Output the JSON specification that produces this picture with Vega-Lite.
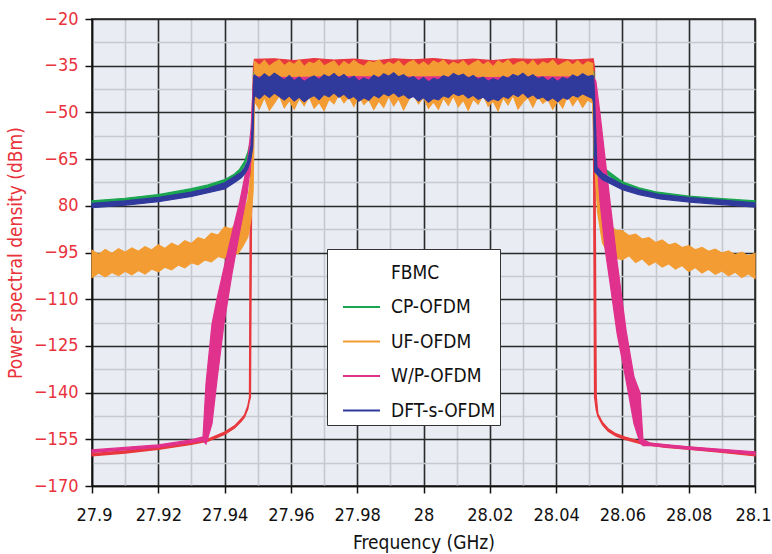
{
  "$schema": "https://vega.github.io/schema/vega-lite/v6.json",
  "width": 663,
  "height": 467,
  "autosize": {"type": "none"},
  "padding": {"left": 92, "top": 19, "right": 17, "bottom": 68},
  "background": "white",
  "config": {
    "view": {"fill": "#e9ecf2", "stroke": "#555555", "strokeWidth": 2},
    "font": "DejaVu Sans Condensed, Liberation Sans Narrow, Roboto, sans-serif"
  },
  "datasets": {
    "fbmc": [
      {"f":27.900,"lo":-160.3,"hi":-159.6},{"f":27.910,"lo":-159.4,"hi":-158.7},{"f":27.920,"lo":-158.2,"hi":-157.5},
      {"f":27.930,"lo":-156.6,"hi":-155.9},{"f":27.935,"lo":-155.6,"hi":-154.9},{"f":27.940,"lo":-153.4,"hi":-152.7},
      {"f":27.943,"lo":-151.4,"hi":-150.7},{"f":27.945,"lo":-149.2,"hi":-148.5},{"f":27.946,"lo":-147.9,"hi":-147.2},
      {"f":27.947,"lo":-145.2,"hi":-144.3},{"f":27.9475,"lo":-142.6,"hi":-141.6},{"f":27.9478,"lo":-141.5,"hi":-64.0},
      {"f":27.9482,"lo":-66.0,"hi":-55.0},{"f":27.9487,"lo":-50.0,"hi":-36.0},
      {"f":27.949,"lo":-37.0,"hi":-33.0},{"f":27.955,"lo":-37.5,"hi":-32.8},{"f":27.961,"lo":-37.2,"hi":-33.4},
      {"f":27.967,"lo":-37.8,"hi":-32.7},{"f":27.973,"lo":-37.0,"hi":-33.2},{"f":27.979,"lo":-37.4,"hi":-32.9},
      {"f":27.985,"lo":-37.6,"hi":-33.5},{"f":27.991,"lo":-37.1,"hi":-32.8},{"f":27.997,"lo":-37.5,"hi":-33.1},
      {"f":28.003,"lo":-37.3,"hi":-32.7},{"f":28.009,"lo":-37.8,"hi":-33.3},{"f":28.015,"lo":-37.0,"hi":-32.9},
      {"f":28.021,"lo":-37.4,"hi":-33.4},{"f":28.027,"lo":-37.6,"hi":-32.8},{"f":28.033,"lo":-37.2,"hi":-33.0},
      {"f":28.039,"lo":-37.7,"hi":-32.7},{"f":28.045,"lo":-37.3,"hi":-33.2},{"f":28.0512,"lo":-37.5,"hi":-32.8},
      {"f":28.0516,"lo":-141.4,"hi":-36.0},{"f":28.0521,"lo":-145.5,"hi":-141.0},{"f":28.0526,"lo":-147.6,"hi":-146.8},
      {"f":28.054,"lo":-150.4,"hi":-149.6},{"f":28.0557,"lo":-152.4,"hi":-151.6},{"f":28.058,"lo":-153.9,"hi":-153.2},
      {"f":28.0608,"lo":-155.0,"hi":-154.3},{"f":28.0662,"lo":-156.6,"hi":-155.9},{"f":28.073,"lo":-157.6,"hi":-156.9},
      {"f":28.0804,"lo":-158.2,"hi":-157.5},{"f":28.09,"lo":-159.2,"hi":-158.5},{"f":28.1,"lo":-160.3,"hi":-159.6}
    ],
    "cp": [
      {"f":27.900,"lo":-79.4,"hi":-78.4},{"f":27.910,"lo":-78.6,"hi":-77.6},{"f":27.920,"lo":-77.5,"hi":-76.4},
      {"f":27.930,"lo":-75.6,"hi":-74.5},{"f":27.935,"lo":-74.4,"hi":-73.3},{"f":27.940,"lo":-72.8,"hi":-71.6},
      {"f":27.943,"lo":-71.0,"hi":-69.8},{"f":27.9445,"lo":-69.5,"hi":-68.3},{"f":27.946,"lo":-67.0,"hi":-65.8},
      {"f":27.947,"lo":-64.3,"hi":-62.8},{"f":27.948,"lo":-60.5,"hi":-58.6},{"f":27.9485,"lo":-58.0,"hi":-50.0},
      {"f":27.9488,"lo":-50.0,"hi":-37.0},{"f":27.949,"lo":-41.0,"hi":-36.8},{"f":27.960,"lo":-41.0,"hi":-37.0},
      {"f":27.975,"lo":-40.8,"hi":-37.2},{"f":27.990,"lo":-41.2,"hi":-36.9},{"f":28.005,"lo":-40.9,"hi":-37.1},
      {"f":28.020,"lo":-41.1,"hi":-37.0},{"f":28.035,"lo":-40.8,"hi":-36.8},{"f":28.0512,"lo":-41.0,"hi":-37.0},
      {"f":28.0514,"lo":-64.0,"hi":-37.0},{"f":28.052,"lo":-65.5,"hi":-64.0},{"f":28.053,"lo":-67.3,"hi":-66.1},
      {"f":28.0545,"lo":-69.1,"hi":-67.9},{"f":28.0565,"lo":-70.7,"hi":-69.5},{"f":28.06,"lo":-73.5,"hi":-72.3},
      {"f":28.065,"lo":-75.3,"hi":-74.2},{"f":28.07,"lo":-76.6,"hi":-75.5},{"f":28.08,"lo":-77.9,"hi":-76.9},
      {"f":28.09,"lo":-78.7,"hi":-77.7},{"f":28.1,"lo":-79.4,"hi":-78.4}
    ],
    "uf": [
      {"f":27.900,"lo":-103.0,"hi":-94.3},{"f":27.902,"lo":-101.6,"hi":-95.6},{"f":27.904,"lo":-102.8,"hi":-94.0},
      {"f":27.906,"lo":-101.4,"hi":-95.3},{"f":27.908,"lo":-102.4,"hi":-93.8},{"f":27.910,"lo":-101.0,"hi":-94.9},
      {"f":27.912,"lo":-102.2,"hi":-93.5},{"f":27.914,"lo":-100.8,"hi":-94.6},{"f":27.916,"lo":-101.9,"hi":-93.1},
      {"f":27.918,"lo":-100.3,"hi":-94.2},{"f":27.920,"lo":-101.2,"hi":-92.5},{"f":27.922,"lo":-99.7,"hi":-93.7},
      {"f":27.924,"lo":-100.6,"hi":-92.0},{"f":27.926,"lo":-99.0,"hi":-93.0},{"f":27.928,"lo":-99.9,"hi":-91.2},
      {"f":27.930,"lo":-98.3,"hi":-92.1},{"f":27.932,"lo":-99.0,"hi":-90.2},{"f":27.934,"lo":-97.4,"hi":-90.9},
      {"f":27.936,"lo":-98.0,"hi":-88.8},{"f":27.938,"lo":-96.3,"hi":-89.4},{"f":27.940,"lo":-96.9,"hi":-86.8},
      {"f":27.942,"lo":-95.0,"hi":-87.5},{"f":27.944,"lo":-95.4,"hi":-85.0},{"f":27.9455,"lo":-93.0,"hi":-83.0},
      {"f":27.947,"lo":-90.0,"hi":-78.0},{"f":27.948,"lo":-84.0,"hi":-70.0},{"f":27.9486,"lo":-75.0,"hi":-55.0},
      {"f":27.9490,"lo":-46.5,"hi":-33.6},{"f":27.9505,"lo":-48.8,"hi":-34.9},{"f":27.9520,"lo":-45.2,"hi":-33.3},
      {"f":27.9535,"lo":-49.3,"hi":-35.2},{"f":27.9550,"lo":-47.0,"hi":-34.0},{"f":27.9565,"lo":-44.6,"hi":-33.2},
      {"f":27.9580,"lo":-48.5,"hi":-35.0},{"f":27.9595,"lo":-46.2,"hi":-33.8},{"f":27.9610,"lo":-49.0,"hi":-34.6},
      {"f":27.9625,"lo":-45.5,"hi":-33.1},{"f":27.9640,"lo":-47.8,"hi":-35.3},{"f":27.9655,"lo":-44.9,"hi":-33.9},
      {"f":27.9670,"lo":-48.6,"hi":-34.4},{"f":27.9685,"lo":-46.8,"hi":-33.2},{"f":27.9700,"lo":-49.4,"hi":-35.1},
      {"f":27.9715,"lo":-45.8,"hi":-34.2},{"f":27.9730,"lo":-47.2,"hi":-33.5},{"f":27.9745,"lo":-44.2,"hi":-35.4},
      {"f":27.9760,"lo":-46.9,"hi":-33.7},{"f":27.9775,"lo":-45.0,"hi":-34.8},{"f":27.9790,"lo":-48.1,"hi":-33.3},
      {"f":27.9805,"lo":-44.5,"hi":-34.5},{"f":27.9820,"lo":-47.5,"hi":-35.2},{"f":27.9835,"lo":-45.9,"hi":-33.6},
      {"f":27.9850,"lo":-49.1,"hi":-34.1},{"f":27.9865,"lo":-46.3,"hi":-33.2},{"f":27.9880,"lo":-48.4,"hi":-35.0},
      {"f":27.9895,"lo":-44.8,"hi":-33.9},{"f":27.9910,"lo":-47.9,"hi":-34.7},{"f":27.9925,"lo":-45.6,"hi":-33.4},
      {"f":27.9940,"lo":-49.2,"hi":-35.3},{"f":27.9955,"lo":-46.0,"hi":-34.0},{"f":27.9970,"lo":-44.3,"hi":-33.3},
      {"f":27.9985,"lo":-47.3,"hi":-34.9},{"f":28.0000,"lo":-45.1,"hi":-33.8},{"f":28.0015,"lo":-48.7,"hi":-35.1},
      {"f":28.0030,"lo":-46.6,"hi":-33.5},{"f":28.0045,"lo":-49.0,"hi":-34.3},{"f":28.0060,"lo":-45.4,"hi":-33.2},
      {"f":28.0075,"lo":-47.7,"hi":-35.0},{"f":28.0090,"lo":-44.7,"hi":-33.9},{"f":28.0105,"lo":-48.2,"hi":-34.6},
      {"f":28.0120,"lo":-46.1,"hi":-33.4},{"f":28.0135,"lo":-49.3,"hi":-35.2},{"f":28.0150,"lo":-45.7,"hi":-34.1},
      {"f":28.0165,"lo":-47.4,"hi":-33.3},{"f":28.0180,"lo":-44.4,"hi":-34.8},{"f":28.0195,"lo":-48.0,"hi":-33.7},
      {"f":28.0210,"lo":-46.4,"hi":-35.3},{"f":28.0225,"lo":-49.5,"hi":-33.5},{"f":28.0240,"lo":-45.3,"hi":-34.4},
      {"f":28.0255,"lo":-47.6,"hi":-33.2},{"f":28.0270,"lo":-44.6,"hi":-35.0},{"f":28.0285,"lo":-48.9,"hi":-34.0},
      {"f":28.0300,"lo":-46.7,"hi":-33.6},{"f":28.0315,"lo":-45.2,"hi":-34.9},{"f":28.0330,"lo":-48.3,"hi":-33.3},
      {"f":28.0345,"lo":-44.9,"hi":-35.2},{"f":28.0360,"lo":-47.1,"hi":-33.8},{"f":28.0375,"lo":-45.8,"hi":-34.5},
      {"f":28.0390,"lo":-49.0,"hi":-33.2},{"f":28.0405,"lo":-46.2,"hi":-35.1},{"f":28.0420,"lo":-48.6,"hi":-34.2},
      {"f":28.0435,"lo":-44.5,"hi":-33.5},{"f":28.0450,"lo":-47.8,"hi":-34.8},{"f":28.0465,"lo":-45.5,"hi":-33.4},
      {"f":28.0480,"lo":-48.4,"hi":-35.0},{"f":28.0495,"lo":-46.0,"hi":-33.7},{"f":28.0510,"lo":-47.0,"hi":-34.3},
      {"f":28.0515,"lo":-62.0,"hi":-45.0},{"f":28.0525,"lo":-82.0,"hi":-70.0},{"f":28.054,"lo":-92.0,"hi":-82.0},
      {"f":28.056,"lo":-95.5,"hi":-86.5},{"f":28.058,"lo":-96.8,"hi":-87.8},
      {"f":28.060,"lo":-97.3,"hi":-88.0},{"f":28.062,"lo":-96.0,"hi":-89.6},{"f":28.064,"lo":-98.2,"hi":-89.1},
      {"f":28.066,"lo":-97.0,"hi":-90.7},{"f":28.068,"lo":-99.1,"hi":-90.2},{"f":28.070,"lo":-98.0,"hi":-91.8},
      {"f":28.072,"lo":-99.7,"hi":-91.0},{"f":28.074,"lo":-98.6,"hi":-92.6},{"f":28.076,"lo":-100.3,"hi":-92.0},
      {"f":28.078,"lo":-99.2,"hi":-93.4},{"f":28.080,"lo":-101.1,"hi":-92.8},{"f":28.082,"lo":-99.8,"hi":-94.1},
      {"f":28.084,"lo":-101.6,"hi":-93.4},{"f":28.086,"lo":-100.4,"hi":-94.6},{"f":28.088,"lo":-102.0,"hi":-93.9},
      {"f":28.090,"lo":-100.9,"hi":-95.2},{"f":28.092,"lo":-102.5,"hi":-94.5},{"f":28.094,"lo":-101.3,"hi":-95.7},
      {"f":28.096,"lo":-103.0,"hi":-94.9},{"f":28.098,"lo":-101.8,"hi":-96.1},{"f":28.100,"lo":-103.3,"hi":-95.3}
    ],
    "wp": [
      {"f":27.900,"lo":-159.2,"hi":-158.4},{"f":27.910,"lo":-158.4,"hi":-157.6},{"f":27.920,"lo":-157.6,"hi":-156.8},
      {"f":27.930,"lo":-156.0,"hi":-155.2},{"f":27.9335,"lo":-155.4,"hi":-154.2},{"f":27.9344,"lo":-156.5,"hi":-137.0},
      {"f":27.9362,"lo":-150.0,"hi":-118.0},{"f":27.9377,"lo":-136.0,"hi":-110.0},{"f":27.9398,"lo":-118.0,"hi":-100.0},
      {"f":27.9422,"lo":-102.0,"hi":-89.0},{"f":27.9446,"lo":-88.0,"hi":-78.5},{"f":27.9468,"lo":-76.0,"hi":-67.0},
      {"f":27.948,"lo":-65.0,"hi":-55.0},{"f":27.9486,"lo":-55.0,"hi":-42.0},{"f":27.9489,"lo":-40.6,"hi":-38.6},
      {"f":27.960,"lo":-40.4,"hi":-38.8},{"f":27.975,"lo":-40.7,"hi":-38.5},{"f":27.990,"lo":-40.5,"hi":-38.7},
      {"f":28.005,"lo":-40.6,"hi":-38.6},{"f":28.020,"lo":-40.4,"hi":-38.8},{"f":28.035,"lo":-40.7,"hi":-38.6},
      {"f":28.0512,"lo":-40.5,"hi":-38.7},{"f":28.052,"lo":-60.0,"hi":-40.0},{"f":28.0532,"lo":-78.0,"hi":-50.0},
      {"f":28.0548,"lo":-94.0,"hi":-65.0},{"f":28.0563,"lo":-105.0,"hi":-79.0},{"f":28.0584,"lo":-121.0,"hi":-98.0},
      {"f":28.0611,"lo":-136.0,"hi":-120.0},{"f":28.0635,"lo":-150.0,"hi":-135.0},{"f":28.0653,"lo":-156.0,"hi":-140.0},
      {"f":28.0662,"lo":-157.0,"hi":-155.0},{"f":28.0683,"lo":-157.0,"hi":-156.2},{"f":28.08,"lo":-158.2,"hi":-157.4},
      {"f":28.09,"lo":-159.0,"hi":-158.2},{"f":28.1,"lo":-159.8,"hi":-159.0}
    ],
    "dft": [
      {"f":27.900,"lo":-80.6,"hi":-79.2},{"f":27.910,"lo":-79.8,"hi":-78.4},{"f":27.920,"lo":-78.7,"hi":-77.3},
      {"f":27.930,"lo":-77.0,"hi":-75.6},{"f":27.935,"lo":-75.8,"hi":-74.4},{"f":27.940,"lo":-74.6,"hi":-72.6},
      {"f":27.943,"lo":-72.5,"hi":-70.6},{"f":27.945,"lo":-71.0,"hi":-69.2},{"f":27.946,"lo":-69.8,"hi":-67.8},
      {"f":27.947,"lo":-68.0,"hi":-65.5},{"f":27.948,"lo":-64.5,"hi":-60.5},{"f":27.9485,"lo":-61.0,"hi":-50.0},
      {"f":27.9488,"lo":-47.0,"hi":-38.5},
      {"f":27.9490,"lo":-44.5,"hi":-38.0},{"f":27.9505,"lo":-45.6,"hi":-39.2},{"f":27.9520,"lo":-44.0,"hi":-37.6},
      {"f":27.9535,"lo":-45.2,"hi":-38.8},{"f":27.9550,"lo":-43.8,"hi":-37.4},{"f":27.9565,"lo":-44.9,"hi":-38.5},
      {"f":27.9580,"lo":-46.0,"hi":-39.6},{"f":27.9595,"lo":-44.7,"hi":-38.2},{"f":27.9610,"lo":-46.3,"hi":-39.8},
      {"f":27.9625,"lo":-45.1,"hi":-38.6},{"f":27.9640,"lo":-46.6,"hi":-40.1},{"f":27.9655,"lo":-45.4,"hi":-39.0},
      {"f":27.9670,"lo":-44.6,"hi":-38.3},{"f":27.9685,"lo":-45.9,"hi":-39.5},{"f":27.9700,"lo":-44.2,"hi":-37.9},
      {"f":27.9715,"lo":-45.0,"hi":-38.7},{"f":27.9730,"lo":-43.7,"hi":-37.5},{"f":27.9745,"lo":-45.1,"hi":-38.9},
      {"f":27.9760,"lo":-44.1,"hi":-37.8},{"f":27.9775,"lo":-45.6,"hi":-39.3},{"f":27.9790,"lo":-44.8,"hi":-38.4},
      {"f":27.9805,"lo":-46.4,"hi":-40.0},{"f":27.9820,"lo":-45.3,"hi":-38.9},{"f":27.9835,"lo":-46.1,"hi":-39.7},
      {"f":27.9850,"lo":-44.4,"hi":-38.1},{"f":27.9865,"lo":-45.3,"hi":-39.0},{"f":27.9880,"lo":-43.9,"hi":-37.6},
      {"f":27.9895,"lo":-44.7,"hi":-38.4},{"f":27.9910,"lo":-43.6,"hi":-37.3},{"f":27.9925,"lo":-45.0,"hi":-38.6},
      {"f":27.9940,"lo":-44.2,"hi":-37.9},{"f":27.9955,"lo":-45.5,"hi":-39.1},{"f":27.9970,"lo":-44.9,"hi":-38.5},
      {"f":27.9985,"lo":-46.3,"hi":-39.9},{"f":28.0000,"lo":-45.2,"hi":-38.8},{"f":28.0015,"lo":-46.7,"hi":-40.2},
      {"f":28.0030,"lo":-45.5,"hi":-39.1},{"f":28.0045,"lo":-46.0,"hi":-39.6},{"f":28.0060,"lo":-44.6,"hi":-38.2},
      {"f":28.0075,"lo":-45.2,"hi":-38.9},{"f":28.0090,"lo":-43.8,"hi":-37.5},{"f":28.0105,"lo":-44.6,"hi":-38.3},
      {"f":28.0120,"lo":-44.0,"hi":-37.7},{"f":28.0135,"lo":-45.4,"hi":-39.0},{"f":28.0150,"lo":-44.5,"hi":-38.1},
      {"f":28.0165,"lo":-45.8,"hi":-39.4},{"f":28.0180,"lo":-45.1,"hi":-38.7},{"f":28.0195,"lo":-46.5,"hi":-40.0},
      {"f":28.0210,"lo":-45.6,"hi":-39.2},{"f":28.0225,"lo":-46.2,"hi":-39.8},{"f":28.0240,"lo":-44.8,"hi":-38.4},
      {"f":28.0255,"lo":-45.5,"hi":-39.1},{"f":28.0270,"lo":-44.1,"hi":-37.8},{"f":28.0285,"lo":-44.9,"hi":-38.5},
      {"f":28.0300,"lo":-43.7,"hi":-37.4},{"f":28.0315,"lo":-45.2,"hi":-38.8},{"f":28.0330,"lo":-44.3,"hi":-37.9},
      {"f":28.0345,"lo":-45.6,"hi":-39.2},{"f":28.0360,"lo":-45.0,"hi":-38.6},{"f":28.0375,"lo":-46.3,"hi":-39.9},
      {"f":28.0390,"lo":-45.3,"hi":-38.9},{"f":28.0405,"lo":-46.6,"hi":-40.1},{"f":28.0420,"lo":-45.2,"hi":-38.8},
      {"f":28.0435,"lo":-45.8,"hi":-39.4},{"f":28.0450,"lo":-44.4,"hi":-38.0},{"f":28.0465,"lo":-45.1,"hi":-38.7},
      {"f":28.0480,"lo":-44.0,"hi":-37.6},{"f":28.0495,"lo":-44.8,"hi":-38.5},{"f":28.0510,"lo":-45.5,"hi":-38.1},
      {"f":28.0513,"lo":-47.0,"hi":-38.5},{"f":28.0516,"lo":-69.0,"hi":-45.0},{"f":28.0523,"lo":-69.8,"hi":-67.6},
      {"f":28.054,"lo":-71.6,"hi":-69.6},{"f":28.0563,"lo":-72.8,"hi":-71.0},{"f":28.06,"lo":-74.8,"hi":-73.2},
      {"f":28.065,"lo":-76.4,"hi":-74.9},{"f":28.0713,"lo":-77.8,"hi":-76.4},{"f":28.0804,"lo":-78.8,"hi":-77.4},
      {"f":28.09,"lo":-79.6,"hi":-78.2},{"f":28.1,"lo":-80.4,"hi":-79.0}
    ]
  },
  "encoding": {
    "x": {
      "field": "f", "type": "quantitative",
      "scale": {"domain": [27.9, 28.1], "nice": false, "zero": false},
      "axis": {
        "title": "Frequency (GHz)", "titleFontSize": 19, "titleFontWeight": "normal", "titleColor": "#111111", "titlePadding": 9,
        "values": [27.9,27.91,27.92,27.93,27.94,27.95,27.96,27.97,27.98,27.99,28,28.01,28.02,28.03,28.04,28.05,28.06,28.07,28.08,28.09,28.1],
        "format": ".2~f",
        "labelExpr": "round(datum.value*100) % 2 === 0 ? datum.label : ''",
        "labelFontSize": 18, "labelColor": "#111111", "labelPadding": 13, "labelFlush": true, "labelFlushOffset": 16, "labelOverlap": false,
        "domainColor": "#111111", "domainWidth": 1.5,
        "tickColor": "#111111", "tickSize": 7, "tickWidth": 1.5,
        "tickOpacity": {"condition": {"test": "round(datum.value*100) % 2 === 0", "value": 1}, "value": 0},
        "grid": true,
        "gridColor": {"condition": {"test": "round(datum.value*100) % 2 === 0", "value": "#2a2a2a"}, "value": "#c6c9cf"},
        "gridWidth": 1.6
      }
    },
    "y": {
      "field": "lo", "type": "quantitative",
      "scale": {"domain": [-170, -20], "nice": false, "zero": false},
      "axis": {
        "title": "Power spectral density (dBm)", "titleFontSize": 19, "titleFontWeight": "normal", "titleColor": "#e8323c", "titlePadding": 8,
        "values": [-170,-162.5,-155,-147.5,-140,-132.5,-125,-117.5,-110,-102.5,-95,-87.5,-80,-72.5,-65,-57.5,-50,-42.5,-35,-27.5,-20],
        "labelExpr": "(datum.value + 20) % 15 === 0 ? (datum.value === -80 ? '80' : datum.label) : ''",
        "labelFontSize": 18, "labelColor": "#e8323c", "labelPadding": 7, "labelOverlap": false, "labelFlush": false,
        "domainColor": "#111111", "domainWidth": 1.5,
        "tickColor": "#111111", "tickSize": 7, "tickWidth": 1.5,
        "tickOpacity": {"condition": {"test": "(datum.value + 20) % 15 === 0", "value": 1}, "value": 0},
        "grid": true,
        "gridColor": {"condition": {"test": "(datum.value + 20) % 15 === 0", "value": "#2a2a2a"}, "value": "#c6c9cf"},
        "gridWidth": 1.6
      }
    },
    "y2": {"field": "hi"}
  },
  "layer": [
    {
      "data": {"name": "fbmc"},
      "mark": {"type": "area", "fill": "#e8383d", "stroke": "#e8383d", "strokeWidth": 1.3}
    },
    {
      "data": {"name": "cp"},
      "mark": {"type": "area", "fill": "#1aa650", "strokeWidth": 1.2},
      "encoding": {
        "stroke": {
          "datum": "CP-OFDM", "type": "nominal",
          "scale": {"domain": ["FBMC", "CP-OFDM", "UF-OFDM", "W/P-OFDM", "DFT-s-OFDM"], "range": ["transparent", "#1aa650", "#f39c33", "#e0318d", "#30399c"]},
          "legend": {
            "orient": "none", "legendX": 235, "legendY": 230, "title": null,
            "symbolType": "stroke", "symbolSize": 1369, "symbolStrokeWidth": 2, "symbolOffset": 11,
            "symbolFillColor": "transparent",
            "labelFontSize": 19, "labelColor": "#111111", "labelOffset": 10,
            "rowPadding": 4.5, "padding": 4,
            "fillColor": "white", "strokeColor": "#333333"
          }
        }
      }
    },
    {
      "data": {"name": "uf"},
      "mark": {"type": "area", "fill": "#f39c33", "strokeWidth": 1.2},
      "encoding": {"stroke": {"datum": "UF-OFDM", "type": "nominal"}}
    },
    {
      "data": {"name": "wp"},
      "mark": {"type": "area", "fill": "#e0318d", "strokeWidth": 1.2},
      "encoding": {"stroke": {"datum": "W/P-OFDM", "type": "nominal"}}
    },
    {
      "data": {"name": "dft"},
      "mark": {"type": "area", "fill": "#30399c", "strokeWidth": 1.2},
      "encoding": {"stroke": {"datum": "DFT-s-OFDM", "type": "nominal"}}
    }
  ]
}
